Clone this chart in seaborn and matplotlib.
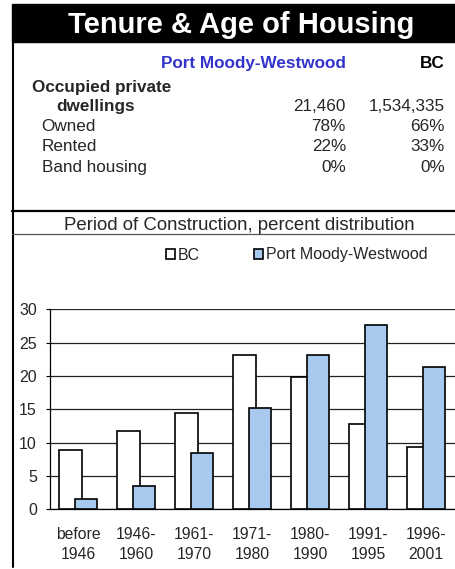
import numpy as np
import matplotlib
matplotlib.use("Agg")
import matplotlib.pyplot as plt
from matplotlib.patches import Rectangle, Patch
from matplotlib.lines import Line2D
import seaborn as sns

# chart data
periods = ["before\n1946", "1946-\n1960", "1961-\n1970", "1971-\n1980",
           "1980-\n1990", "1991-\n1995", "1996-\n2001"]
bc_pct = [8.9, 11.7, 14.5, 23.2, 19.8, 12.8, 9.4]
pm_pct = [1.5, 3.5, 8.5, 15.2, 23.1, 27.6, 21.3]

# table data
region_name = "Port Moody-Westwood"
province_name = "BC"
row_labels = ["Owned", "Rented", "Band housing"]
pm_values = ["78%", "22%", "0%"]
bc_values = ["66%", "33%", "0%"]
pm_dwellings = "21,460"
bc_dwellings = "1,534,335"

BLUE = "#A7C9EE"

sns.set_style("white")
plt.rcParams["font.family"] = ["Liberation Sans", "DejaVu Sans"]

W, H = 455, 569
fig = plt.figure(figsize=(W / 100, H / 100), dpi=100)


def fx(px):
    return px / W


def fy(py):
    return 1 - py / H


# black title bar + frame lines
fig.patches.append(Rectangle((fx(12), fy(42)), 1 - fx(12), fy(4) - fy(42),
                             transform=fig.transFigure, color="black", zorder=0))
fig.text(fx(241), fy(33), "Tenure & Age of Housing", color="white",
         fontsize=21, fontweight="bold", ha="center", va="baseline")
fig.lines.append(Line2D([fx(13), fx(13)], [fy(42), fy(567)], transform=fig.transFigure,
                        color="black", lw=1.5))
fig.lines.append(Line2D([fx(12), 1], [fy(210.7), fy(210.7)], transform=fig.transFigure,
                        color="black", lw=1.6))
fig.lines.append(Line2D([fx(12), 1], [fy(234), fy(234)], transform=fig.transFigure,
                        color="#555555", lw=0.9))

# table
tfs = 12.3
fig.text(fx(346), fy(67.7), region_name, color="#3333CC", fontsize=tfs,
         fontweight="bold", ha="right", va="baseline")
fig.text(fx(445), fy(67.7), province_name, color="black", fontsize=tfs,
         fontweight="bold", ha="right", va="baseline")
fig.text(fx(32), fy(91.7), "Occupied private", fontsize=tfs, fontweight="bold",
         va="baseline")
fig.text(fx(56), fy(111), "dwellings", fontsize=tfs, fontweight="bold", va="baseline")
fig.text(fx(346), fy(111), pm_dwellings, fontsize=tfs, ha="right", va="baseline")
fig.text(fx(445), fy(111), bc_dwellings, fontsize=tfs, ha="right", va="baseline")
for i, (lab, pv, bv) in enumerate(zip(row_labels, pm_values, bc_values)):
    yb = fy(130.7 + i * 20.5)
    fig.text(fx(41.7), yb, lab, fontsize=tfs, va="baseline")
    fig.text(fx(346), yb, pv, fontsize=tfs, ha="right", va="baseline")
    fig.text(fx(445), yb, bv, fontsize=tfs, ha="right", va="baseline")

fig.text(fx(239.5), fy(230.5), "Period of Construction, percent distribution",
         fontsize=13.4, ha="center", va="baseline")

# bar chart
ax = fig.add_axes([fx(49.5), fy(509.3), 1 - fx(49.5), 200 / H])
idx = np.arange(len(periods))
sns.barplot(x=idx - 0.135, y=bc_pct, native_scale=True, width=0.385, color="white",
            edgecolor="black", linewidth=1.2, saturation=1, ax=ax, zorder=3)
sns.barplot(x=idx + 0.135, y=pm_pct, native_scale=True, width=0.385, color=BLUE,
            edgecolor="black", linewidth=1.2, saturation=1, ax=ax, zorder=4)

ax.set_xlim(-0.5, len(periods) - 0.5)
ax.set_ylim(0, 30)
ax.set_yticks(range(0, 31, 5))
ax.set_xticks(idx)
ax.set_xticklabels(periods, fontsize=11.3, linespacing=1.4)
ax.tick_params(axis="y", labelsize=11.5, length=3, width=0.8, pad=6, left=True,
               color="black")
ax.tick_params(axis="x", length=0, pad=13)
ax.yaxis.grid(True, color="#222222", lw=0.9)
ax.set_axisbelow(True)
for s in ["top", "right"]:
    ax.spines[s].set_visible(False)
for s in ["left", "bottom"]:
    ax.spines[s].set_color("black")
    ax.spines[s].set_linewidth(0.9)
ax.set_xlabel("")
ax.set_ylabel("")

handles = [Patch(facecolor="white", edgecolor="black", lw=1.2, label=province_name),
           Patch(facecolor=BLUE, edgecolor="black", lw=1.2, label=region_name)]
fig.legend(handles=handles, loc="center", bbox_to_anchor=(fx(297), fy(255)), ncol=2,
           frameon=False, fontsize=11.5, handlelength=0.55, handleheight=0.55,
           handletextpad=0.2, columnspacing=3.4)

fig.savefig("out.png", dpi=100)
